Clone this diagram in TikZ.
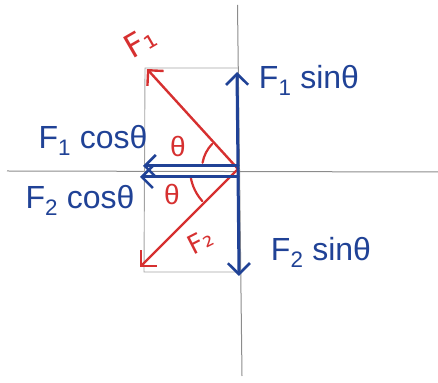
\documentclass[tikz,border=0pt]{standalone}
\usepackage{fontspec}
\setmainfont{Liberation Sans}
\newfontfamily\redfont{DejaVu Sans}
\usetikzlibrary{arrows.meta,calc}
\definecolor{penblue}{RGB}{32,66,150}
\definecolor{penred}{RGB}{214,48,48}
\definecolor{axisgray}{RGB}{140,140,140}
\tikzset{
  axisline/.style={draw=axisgray, line width=1pt},
  boxline/.style={draw=axisgray!80, line width=0.9pt},
  redvec/.style={draw=penred, line width=2.4pt, line cap=round, -{Straight Barb[length=11pt,width=22pt,line width=2.4pt]}},
  bluevec/.style={draw=penblue, line width=3pt, line cap=round, -{Straight Barb[length=11pt,width=22pt,line width=2.6pt]}},
  bluelbl/.style={text=penblue, font=\fontsize{32}{36}\selectfont, inner sep=0pt},
  redlbl/.style={text=penred, font=\fontsize{28}{32}\selectfont, inner sep=0pt},
  anglearc/.style={draw=penred, line width=2.2pt, line cap=round}
}
\begin{document}
\begin{tikzpicture}[x=1pt,y=1pt]
\useasboundingbox (0,0) rectangle (438,382);
% axes
\coordinate (vtop) at (237.5,377);
\coordinate (vbot) at (242,6);
\coordinate (hleft) at (7,211);
\coordinate (hright) at (438,210);
\draw[axisline] (vtop) -- (vbot);
\draw[axisline] (hleft) -- (hright);
% rectangle
\coordinate (tl) at (145,314);
\coordinate (tr) at (238,314);
\coordinate (bl) at (144,110);
\coordinate (br) at (239,110);
\draw[boxline] (tr) -- (tl) -- (bl) -- (br);
% origin and tips
\coordinate (O) at (238,213);
\coordinate (f1tip) at (147,313);
\coordinate (f2tip) at (140,115);
\coordinate (uptip) at (237,310);
\coordinate (dntip) at (239,106);
\coordinate (hu0) at (238,216);
\coordinate (hu1) at (143,216);
\coordinate (hl0) at (238,205);
\coordinate (hl1) at (140,205);
% red vectors
\draw[redvec] (O) -- (f1tip);
\draw[redvec] (O) -- (f2tip);
% angle arcs
\draw[anglearc] ($(O)+(136:36)$) arc[start angle=136, end angle=170, radius=36];
\draw[anglearc] ($(O)+(190:48)$) arc[start angle=190, end angle=222, radius=48];
% blue components
\draw[bluevec] (O) -- (uptip);
\draw[bluevec] ([yshift=-1pt]O) -- (dntip);
\draw[bluevec] (hu0) -- (hu1);
\draw[bluevec] (hl0) -- (hl1);
% labels
\node[bluelbl] (l1) at (309,302) {F\textsubscript{1} sinθ};
\node[bluelbl] (l2) at (93,242) {F\textsubscript{1} cosθ};
\node[bluelbl] (l3) at (80,182) {F\textsubscript{2} cosθ};
\node[bluelbl] (l4) at (321,130) {F\textsubscript{2} sinθ};
\node[redlbl, rotate=30, font=\redfont\fontsize{32}{36}\selectfont] (r1) at (140,340) {F₁};
\node[redlbl, rotate=27, font=\redfont\fontsize{26}{30}\selectfont] (r2) at (200,141) {F₂};
\node[redlbl] (t1) at (178,235) {θ};
\node[redlbl] (t2) at (172,187) {θ};
\end{tikzpicture}
\end{document}
